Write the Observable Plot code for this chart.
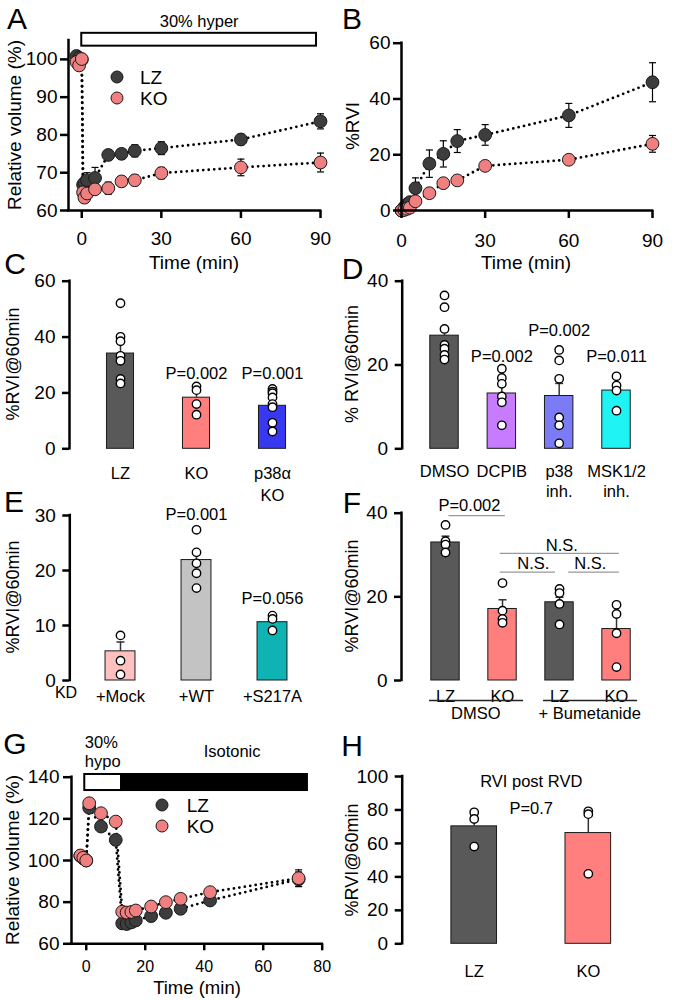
<!DOCTYPE html>
<html><head><meta charset="utf-8">
<script src="https://cdn.jsdelivr.net/npm/d3@7"></script>
<script src="https://cdn.jsdelivr.net/npm/@observablehq/plot@0.6"></script>
<style>
body{margin:0;background:#fff;}
#fig{position:relative;width:677px;height:1000px;overflow:hidden;font-family:"Liberation Sans",Arial,Helvetica,sans-serif;color:#000;background:#fff;font-weight:normal;}
#fig svg{position:absolute;left:0;top:0;}
.lbl{position:absolute;white-space:nowrap;transform:translate(-50%,-50%);line-height:1;font-weight:normal;}
.lbl.rot{transform:translate(-50%,-50%) rotate(-90deg);}
.lbl.start{transform:translate(0,-50%);}
.leg{position:absolute;border-radius:50%;box-sizing:border-box;border:1px solid #1a1a1a;transform:translate(-50%,-50%);}
</style></head><body><div id="fig"></div>
<script>
const FONT = '"Liberation Sans", Arial, Helvetica, sans-serif';
const W = 677, H = 1000;
const LZC = "#3d3d3d", KOC = "#f08080";

// ---------- Panel A: relative volume, 30% hyper ----------
const aTime  = [-2, -1, 0, 0.5, 1, 2, 5, 10, 15, 20, 30, 60, 90];
const aLZ    = [100.9, 100.4, 99.9, 66.8, 67.3, 68.0, 68.6, 74.7, 75.0, 75.8, 76.5, 78.8, 83.6];
const aLZerr = [0.5, 0.5, 0.5, 1.2, 1.8, 2.0, 2.8, 1.0, 1.3, 1.6, 1.7, 1.4, 2.0];
const aKO    = [99.3, 98.4, 100.1, 64.8, 63.4, 64.5, 65.6, 65.9, 67.7, 68.0, 69.9, 71.4, 72.7];
const aKOerr = [0.5, 0.6, 0.5, 1.0, 1.3, 1.2, 1.2, 1.6, 1.3, 1.4, 1.5, 2.2, 2.5];
const aStim  = [{label: "30% hyper", start: 0, end: 88.5}];

// ---------- Panel B: %RVI ----------
const bTime  = [0, 1, 2, 3, 5, 10, 15, 20, 30, 60, 90];
const bLZ    = [0, 1.2, 2.2, 3.0, 8.0, 16.8, 20.3, 24.9, 27.1, 34.1, 46.0];
const bLZerr = [0, 0.5, 1.0, 1.0, 3.7, 4.9, 4.7, 4.1, 3.7, 4.3, 7.0];
const bKO    = [0, 0.2, 0.6, 1.0, 3.3, 6.2, 9.8, 10.8, 16.0, 18.2, 23.9];
const bKOerr = [0, 0.3, 0.4, 0.5, 0.6, 0.8, 0.8, 0.8, 1.2, 1.0, 3.0];

// ---------- Panel C ----------
const cCats  = ["LZ", "KO", "p38α\nKO"];
const cMean  = [34.1, 18.3, 15.4];
const cSem   = [5.0, 3.0, 2.6];
const cDots  = [[52.1, 40.1, 38.5, 33.3, 31.5, 25.0, 23.4], [22.3, 21.0, 16.0, 12.2], [21.4, 20.5, 19.9, 18.4, 16.0, 14.9, 9.3, 6.2]];
const cColor = ["#595959", "#ff7f7f", "#3838f0"];
const cP     = ["", "P=0.002", "P=0.001"];

// ---------- Panel D ----------
const dCats  = ["DMSO", "DCPIB", "p38\ninh.", "MSK1/2\ninh."];
const dMean  = [27.0, 13.2, 12.6, 13.9];
const dSem   = [1.8, 1.8, 3.0, 1.4];
const dDots  = [[36.6, 33.8, 28.6, 24.8, 23.9, 22.4, 21.3], [19.1, 16.9, 15.5, 12.5, 11.1, 5.6], [23.6, 21.1, 16.7, 7.5, 5.6, 1.3], [17.3, 15.1, 13.9, 9.1]];
const dColor = ["#595959", "#c77cff", "#7b7bf5", "#1ff3f3"];
const dP     = ["", "P=0.002", "P=0.002", "P=0.011"];

// ---------- Panel E ----------
const eCats  = ["+Mock", "+WT", "+S217A"];
const eMean  = [5.3, 21.9, 10.6];
const eSem   = [1.7, 1.5, 0.9];
const eDots  = [[8.2, 3.6, 1.1], [27.4, 23.3, 21.3, 19.5, 16.8], [11.8, 11.2, 9.1]];
const eColor = ["#ffc0c0", "#c3c3c3", "#10b3b3"];
const eP     = ["", "P=0.001", "P=0.056"];

// ---------- Panel F ----------
const fCats  = ["LZ", "KO", "LZ", "KO"];
const fMean  = [33.0, 17.1, 18.7, 12.3];
const fSem   = [1.5, 2.2, 1.2, 3.7];
const fDots  = [[37.2, 33.3, 32.5, 30.6], [23.3, 16.7, 14.7, 13.8], [21.9, 20.9, 18.3, 13.4], [18.1, 15.9, 11.3, 3.2]];
const fColor = ["#595959", "#ff7f7f", "#595959", "#ff7f7f"];
const fGroups = [{label: "DMSO", from: 0, to: 1}, {label: "+ Bumetanide", from: 2, to: 3}];
const fSig   = [{label: "P=0.002", from: 0, to: 1}, {label: "N.S.", from: 1, to: 3}, {label: "N.S.", from: 1, to: 2}, {label: "N.S.", from: 2, to: 3}];

// ---------- Panel G: relative volume, 30% hypo ----------
const gTime  = [-2, -1, 0, 1, 5, 10, 12.2, 13.7, 15.3, 16.8, 22, 27, 32, 42, 72];
const gLZ    = [102.2, 101.0, 100.0, 125.3, 116.3, 109.9, 69.8, 69.5, 70.3, 71.2, 73.3, 74.9, 76.8, 80.8, 91.0];
const gLZerr = [0.5, 0.5, 0.5, 1.5, 1.5, 1.5, 1.2, 1.2, 1.2, 1.2, 1.3, 1.3, 1.3, 1.5, 3.5];
const gKO    = [102.4, 101.3, 100.0, 127.5, 122.7, 118.7, 75.4, 75.0, 75.3, 76.0, 77.9, 80.0, 81.6, 84.8, 91.5];
const gKOerr = [0.5, 0.5, 0.5, 1.5, 1.5, 1.5, 1.2, 1.2, 1.2, 1.4, 1.5, 1.6, 1.6, 1.8, 4.0];
const gStim  = [{label: "30%\nhypo", start: -0.5, end: 12, fill: "#fff"}, {label: "Isotonic", start: 12, end: 75, fill: "#000"}];

// ---------- Panel H ----------
const hCats  = ["LZ", "KO"];
const hMean  = [70.2, 66.2];
const hSem   = [6.3, 12.1];
const hDots  = [[78.6, 74.6, 58.1], [79.2, 77.5, 41.8]];
const hColor = ["#595959", "#ff7f7f"];

// ======================================================
const fig = document.getElementById("fig");
const cap = {draw(ctx, size) { const w = Math.sqrt(size / Math.PI); ctx.moveTo(-w, 0); ctx.lineTo(w, 0); }};

function addPlot(frame, opts) {
  const [l, t, r, b] = frame;
  const svg = Plot.plot({
    width: W, height: H,
    marginLeft: l, marginTop: t, marginRight: W - r, marginBottom: H - b,
    style: `background:transparent;font-family:${FONT};overflow:visible;`,
    color: {type: "identity"},
    ...opts
  });
  svg.setAttribute("font-family", FONT);
  fig.appendChild(svg);
}
function html(text, x, y, size, cls = "") {
  const d = document.createElement("div");
  d.className = "lbl " + cls;
  d.textContent = text;
  d.style.left = x + "px"; d.style.top = y + "px"; d.style.fontSize = size + "px";
  fig.appendChild(d);
}
function legendDot(x, y, fill) {
  const d = document.createElement("div");
  d.className = "leg";
  d.style.left = x + "px"; d.style.top = y + "px";
  d.style.width = "13px"; d.style.height = "13px"; d.style.background = fill;
  fig.appendChild(d);
}
function series(t, v, e, fill) {
  const d = t.map((x, i) => ({t: x, v: v[i], e: e[i]}));
  const de = d.filter(p => p.e > 0);
  return {
    line: Plot.line(d, {x: "t", y: "v", stroke: "#000", strokeWidth: 2.8, strokeDasharray: "0,5.5", strokeLinecap: "round"}),
    err: [
      Plot.ruleX(de, {x: "t", y1: p => p.v - p.e, y2: p => p.v + p.e, stroke: "#000", strokeWidth: 1.2}),
      Plot.dot(de, {x: "t", y: p => p.v + p.e, r: 3.5, symbol: cap, fill: "none", stroke: "#000", strokeWidth: 1.2}),
      Plot.dot(de, {x: "t", y: p => p.v - p.e, r: 3.5, symbol: cap, fill: "none", stroke: "#000", strokeWidth: 1.2})
    ],
    dots: Plot.dot(d, {x: "t", y: "v", r: 6.4, fill, stroke: "#1a1a1a", strokeWidth: 1})
  };
}
function axisLines(xDom, yDom) {
  return [
    Plot.ruleX([xDom[0]], {y1: () => yDom[0], y2: () => yDom[1], stroke: "#000", strokeWidth: 2.5, strokeLinecap: "square"}),
    Plot.ruleY([yDom[0]], {x1: () => xDom[0], x2: () => xDom[1], stroke: "#000", strokeWidth: 2.5, strokeLinecap: "square"})
  ];
}

// ---- A ----
{
  const xDom = [-5, 90], yDom = [60, 105];
  const lz = series(aTime, aLZ, aLZerr, LZC), ko = series(aTime, aKO, aKOerr, KOC);
  addPlot([68, 40, 320, 210], {
    x: {domain: xDom}, y: {domain: yDom},
    marks: [
      lz.line, ko.line, ...lz.err, ...ko.err, lz.dots, ko.dots,
      Plot.rect(aStim, {x1: "start", x2: "end", y1: () => 103.5, y2: () => 106.9, fill: "#fff", stroke: "#000", strokeWidth: 2}),
      Plot.text(aStim, {x: d => (d.start + d.end) / 2, y: () => 109.9, text: "label", fontSize: 16.5, lineAnchor: "middle"}),
      ...axisLines(xDom, yDom),
      Plot.axisY({ticks: [60, 70, 80, 90, 100], tickSize: 8, tickPadding: 3, fontSize: 19, strokeWidth: 2.5, label: null}),
      Plot.axisX({ticks: [0, 30, 60, 90], tickSize: 8, tickPadding: 13, fontSize: 19, strokeWidth: 2.5, label: null})
    ]
  });
}
// ---- B ----
{
  const xDom = [0, 90], yDom = [0, 60];
  const lz = series(bTime, bLZ, bLZerr, LZC), ko = series(bTime, bKO, bKOerr, KOC);
  addPlot([401, 42.7, 652, 210], {
    x: {domain: xDom}, y: {domain: yDom},
    marks: [
      lz.line, ko.line, ...lz.err, ...ko.err, lz.dots, ko.dots,
      ...axisLines(xDom, yDom),
      Plot.axisY({ticks: [0, 20, 40, 60], tickSize: 8, tickPadding: 3, fontSize: 19, strokeWidth: 2.5, label: null}),
      Plot.axisX({ticks: [0, 30, 60, 90], tickSize: 8, tickPadding: 15, fontSize: 19, strokeWidth: 2.5, label: null})
    ]
  });
}
// ---- bar panels ----
function barPanel({frame, xDom, yDom, yTicks, cats, means, sems, dots, colors, hw, tickPad, lineHeight = 1.2, extra = []}) {
  const bars = cats.map((c, i) => ({i, cat: c, mean: means[i], sem: sems[i], color: colors[i]}));
  const pts = dots.flatMap((arr, i) => arr.map(v => ({i, v})));
  addPlot(frame, {
    x: {domain: xDom}, y: {domain: yDom},
    marks: [
      Plot.rect(bars, {x1: d => d.i - hw, x2: d => d.i + hw, y1: () => 0, y2: "mean", fill: d => d.color, stroke: "#1a1a1a", strokeWidth: 1}),
      Plot.ruleX(bars, {x: "i", y1: "mean", y2: d => d.mean + d.sem, stroke: "#333", strokeWidth: 1.5}),
      Plot.dot(bars, {x: "i", y: d => d.mean + d.sem, r: 4, symbol: cap, fill: "none", stroke: "#333", strokeWidth: 1.5}),
      Plot.dot(pts, {x: "i", y: "v", r: 4.2, fill: "#fff", stroke: "#000", strokeWidth: 1.4}),
      Plot.ruleX([xDom[0]], {y1: () => yDom[0], y2: () => yDom[1], stroke: "#000", strokeWidth: 2.5, strokeLinecap: "square"}),
      Plot.axisY({ticks: yTicks, tickSize: 7, tickPadding: 7, fontSize: 19, strokeWidth: 2.5, label: null}),
      Plot.axisX({ticks: cats.map((_, i) => i), tickFormat: i => cats[i], tickSize: 0, tickPadding: tickPad, fontSize: 16.5, lineHeight, label: null}),
      ...extra
    ]
  });
}
function pText(labels, yPos) {
  const d = labels.map((l, i) => ({i, label: l, y: yPos[i]})).filter(p => p.label);
  return Plot.text(d, {x: "i", y: "y", text: "label", fontSize: 16.5, lineAnchor: "middle"});
}
// C
barPanel({frame: [69, 280.7, 310, 448.3], xDom: [-0.671, 2.5], yDom: [0, 60], yTicks: [0, 20, 40, 60],
  cats: cCats, means: cMean, sems: cSem, dots: cDots, colors: cColor, hw: 0.178, tickPad: 14, lineHeight: 1.35,
  extra: [pText(cP, [0, 27.0, 27.0])]});
// D
barPanel({frame: [401.7, 280.7, 650, 448.3], xDom: [-0.738, 3.593], yDom: [0, 40], yTicks: [0, 20, 40],
  cats: dCats, means: dMean, sems: dSem, dots: dDots, colors: dColor, hw: 0.248, tickPad: 14, lineHeight: 1.2,
  extra: [pText(dP, [0, 22.0, 28.1, 22.0])]});
// E
barPanel({frame: [69.3, 515, 310, 680], xDom: [-0.667, 2.5], yDom: [0, 30], yTicks: [0, 10, 20, 30],
  cats: eCats, means: eMean, sems: eSem, dots: eDots, colors: eColor, hw: 0.197, tickPad: 7,
  extra: [pText(eP, [0, 30.2, 14.9])]});
// F
const fSigY = [39.4, 30.4, 25.9, 25.9];
barPanel({frame: [401, 512.7, 650, 680], xDom: [-0.772, 3.596], yDom: [0, 40], yTicks: [0, 20, 40],
  cats: fCats, means: fMean, sems: fSem, dots: fDots, colors: fColor, hw: 0.249, tickPad: 7,
  extra: [
    Plot.ruleY(fGroups, {y: () => 0, x1: d => d.from - 0.28, x2: d => d.to + 0.37, dy: 20, stroke: "#222", strokeWidth: 1.3}),
    Plot.text(fGroups, {x: d => (d.from + d.to) / 2 + 0.03, y: () => 0, text: "label", dy: 33, fontSize: 16.5, lineAnchor: "middle"}),
    Plot.ruleY(fSig, {y: (d, i) => fSigY[i], x1: (d, i) => d.from + (i === 0 ? 0.06 : i === 3 ? 0.16 : -0.04), x2: (d, i) => d.to + (i === 2 ? -0.07 : 0.05), stroke: "#999", strokeWidth: 1.3}),
    Plot.text(fSig.slice(0, 1), {x: d => (d.from + d.to) / 2 - 0.08, y: () => fSigY[0], text: "label", dy: -10, fontSize: 16.5, lineAnchor: "middle"}),
    Plot.text(fSig.slice(1), {x: d => (d.from + d.to) / 2 + 0.04, y: (d, i) => fSigY[i + 1], text: "label", dy: -8, fontSize: 16.5, lineAnchor: "middle"})
  ]});
// H
barPanel({frame: [401.7, 776, 650, 943.3], xDom: [-0.631, 1.545], yDom: [0, 100], yTicks: [0, 20, 40, 60, 80, 100],
  cats: hCats, means: hMean, sems: hSem, dots: hDots, colors: hColor, hw: 0.2, tickPad: 19,
  extra: [
    Plot.text(["RVI post RVD"], {x: () => 0.5, y: () => 97, text: d => d, fontSize: 16.5, lineAnchor: "middle"}),
    Plot.text(["P=0.7"], {x: () => 0.5, y: () => 80.6, text: d => d, fontSize: 16.5, lineAnchor: "middle"})
  ]});
// ---- G ----
{
  const xDom = [-5, 80], yDom = [60, 140];
  const lz = series(gTime, gLZ, gLZerr, LZC), ko = series(gTime, gKO, gKOerr, KOC);
  addPlot([71, 776.7, 321.7, 943.3], {
    x: {domain: xDom}, y: {domain: yDom},
    marks: [
      lz.line, ko.line, ...lz.err, ...ko.err, lz.dots, ko.dots,
      Plot.rect(gStim, {x1: "start", x2: "end", y1: () => 133.6, y2: () => 141.3, fill: d => d.fill, stroke: "#000", strokeWidth: 2}),
      Plot.text(gStim, {x: (d, i) => i === 0 ? d.start : 39.8, y: () => 152.5, text: "label", fontSize: 16.5, lineAnchor: "middle", lineHeight: 1.15, textAnchor: "start"}),
      ...axisLines(xDom, yDom),
      Plot.axisY({ticks: [60, 80, 100, 120, 140], tickSize: 8, tickPadding: 4, fontSize: 19, strokeWidth: 2.5, label: null}),
      Plot.axisX({ticks: [0, 20, 40, 60, 80], tickSize: 7, tickPadding: 10, fontSize: 16, strokeWidth: 2.5, label: null})
    ]
  });
}

// ---- text outside the plots: panel letters, axis titles, legends ----
const letters = [["A", 17, 19], ["B", 352, 19], ["C", 15, 264], ["D", 352.5, 269], ["E", 14, 502], ["F", 352, 503], ["G", 15, 744], ["H", 352, 746]];
letters.forEach(([t, x, y]) => html(t, x, y, 30));
html("Relative volume (%)", 13.5, 125, 19, "rot");
html("%RVI", 352, 126, 19, "rot");
html("Time (min)", 194, 262, 19);
html("Time (min)", 526, 262, 19);
html("%RVI@60min", 12.5, 364, 18, "rot");
html("% RVI@60min", 352, 364, 18, "rot");
html("%RVI@60min", 12.5, 597, 18, "rot");
html("%RVI@60min", 352, 596, 18, "rot");
html("Relative volume (%)", 12, 860, 19, "rot");
html("Time (min)", 197, 988, 18.5);
html("%RVI@60min", 352, 860, 18, "rot");
html("KD", 66, 693, 16);
legendDot(117, 77, LZC); legendDot(117, 98, KOC);
html("LZ", 140, 77, 19, "start"); html("KO", 140, 98, 19, "start");
legendDot(161.7, 805, LZC); legendDot(161.7, 826, KOC);
html("LZ", 186.7, 805, 19, "start"); html("KO", 186.7, 826, 19, "start");
</script></body></html>
